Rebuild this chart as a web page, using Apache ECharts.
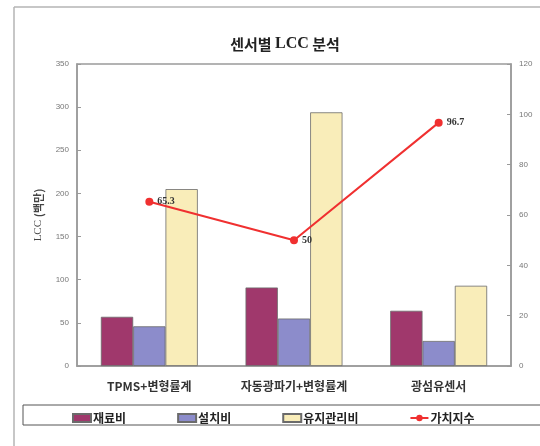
<!DOCTYPE html>
<html><head><meta charset="utf-8">
<script src="https://cdn.jsdelivr.net/npm/echarts@6/dist/echarts.min.js"></script>
<style>html,body{margin:0;padding:0;background:#fff}#c{width:540px;height:446px}</style>
</head><body><div id="c"></div>
<script>
const categories = ['TPMS+변형률계', '자동광파기+변형률계', '광섬유센서'];
const materialCost = [57, 91, 64];
const installCost = [46, 55, 29];
const maintenanceCost = [205, 294, 93];
const valueIndex = [65.3, 50, 96.7];
const leftTicks = {min: 0, max: 350, interval: 50};
const rightTicks = {min: 0, max: 120, interval: 20};

const chart = echarts.init(document.getElementById('c'));
const cjk = '"Noto Sans CJK KR", "Noto Sans", sans-serif';
const barBase = {type: 'bar', barGap: '0%', barCategoryGap: '33%', yAxisIndex: 0,
  itemStyle: {borderColor: '#6b6b6b', borderWidth: 0.8}};
chart.setOption({
  animation: false,
  graphic: [
    {type: 'line', shape: {x1: 14, y1: 7, x2: 540, y2: 7}, style: {stroke: '#b5b5b5', lineWidth: 1.5}},
    {type: 'line', shape: {x1: 14, y1: 7, x2: 14, y2: 446}, style: {stroke: '#b5b5b5', lineWidth: 1.5}},
    {type: 'rect', shape: {x: 23, y: 405, width: 530, height: 20}, style: {fill: 'none', stroke: '#555', lineWidth: 1}}
  ],
  title: {
    text: '{b|센서별 }{s|LCC}{b| 분석}', left: 280, top: 31, textAlign: 'center',
    textStyle: {rich: {
      b: {fontFamily: cjk, fontWeight: 'bold', fontSize: 15, color: '#222'},
      s: {fontFamily: '"Liberation Serif", serif', fontSize: 16, color: '#222'}
    }}
  },
  legend: {
    left: 67, top: 407, itemGap: 51, itemWidth: 18, itemHeight: 8,
    textStyle: {fontFamily: cjk, fontWeight: 'bold', fontSize: 12, color: '#222', padding: [0, 0, 0, -3]},
    data: [
      {name: '재료비', icon: 'rect'},
      {name: '설치비', icon: 'rect'},
      {name: '유지관리비', icon: 'rect'},
      {name: '가치지수'}
    ]
  },
  grid: {left: 77, right: 29, top: 64, bottom: 80, show: true, borderColor: '#9a9a9a', borderWidth: 1.5, backgroundColor: '#fff'},
  xAxis: {
    type: 'category', data: categories,
    axisLine: {lineStyle: {color: '#9a9a9a', width: 1.5}},
    axisTick: {show: false},
    axisLabel: {fontFamily: cjk, fontWeight: 'bold', fontSize: 12, color: '#333', margin: 14}
  },
  yAxis: [
    {type: 'value', min: leftTicks.min, max: leftTicks.max, interval: leftTicks.interval,
      name: '{s|LCC }{b|(백만)}', nameLocation: 'middle', nameGap: 33, nameRotate: 90,
      nameTextStyle: {rich: {
        s: {fontFamily: '"Liberation Serif", serif', fontSize: 11, color: '#444'},
        b: {fontFamily: cjk, fontWeight: 'bold', fontSize: 11, color: '#444'}
      }},
      axisLine: {show: true, lineStyle: {color: '#9a9a9a', width: 1.5}},
      axisTick: {show: true, inside: true, length: 4, lineStyle: {color: '#9a9a9a'}},
      splitLine: {show: false},
      axisLabel: {fontFamily: '"Liberation Sans", sans-serif', fontSize: 8, color: '#777', margin: 8}},
    {type: 'value', min: rightTicks.min, max: rightTicks.max, interval: rightTicks.interval,
      position: 'right',
      axisLine: {show: true, lineStyle: {color: '#9a9a9a', width: 1.5}},
      axisTick: {show: true, inside: true, length: 4, lineStyle: {color: '#9a9a9a'}},
      splitLine: {show: false},
      axisLabel: {fontFamily: '"Liberation Sans", sans-serif', fontSize: 8, color: '#777', margin: 8}}
  ],
  series: [
    Object.assign({}, barBase, {name: '재료비', data: materialCost, itemStyle: Object.assign({}, barBase.itemStyle, {color: '#a0386c'})}),
    Object.assign({}, barBase, {name: '설치비', data: installCost, itemStyle: Object.assign({}, barBase.itemStyle, {color: '#8c8ccb'})}),
    Object.assign({}, barBase, {name: '유지관리비', data: maintenanceCost, itemStyle: Object.assign({}, barBase.itemStyle, {color: '#f9edb9'})}),
    {name: '가치지수', type: 'line', yAxisIndex: 1, data: valueIndex,
      symbol: 'circle', symbolSize: 8, z: 5,
      lineStyle: {color: '#f03030', width: 2}, itemStyle: {color: '#f03030'},
      label: {show: true, position: 'right', distance: 4, fontFamily: '"Liberation Serif", serif', fontWeight: 'bold', fontSize: 10, color: '#333'}}
  ]
});
</script></body></html>
